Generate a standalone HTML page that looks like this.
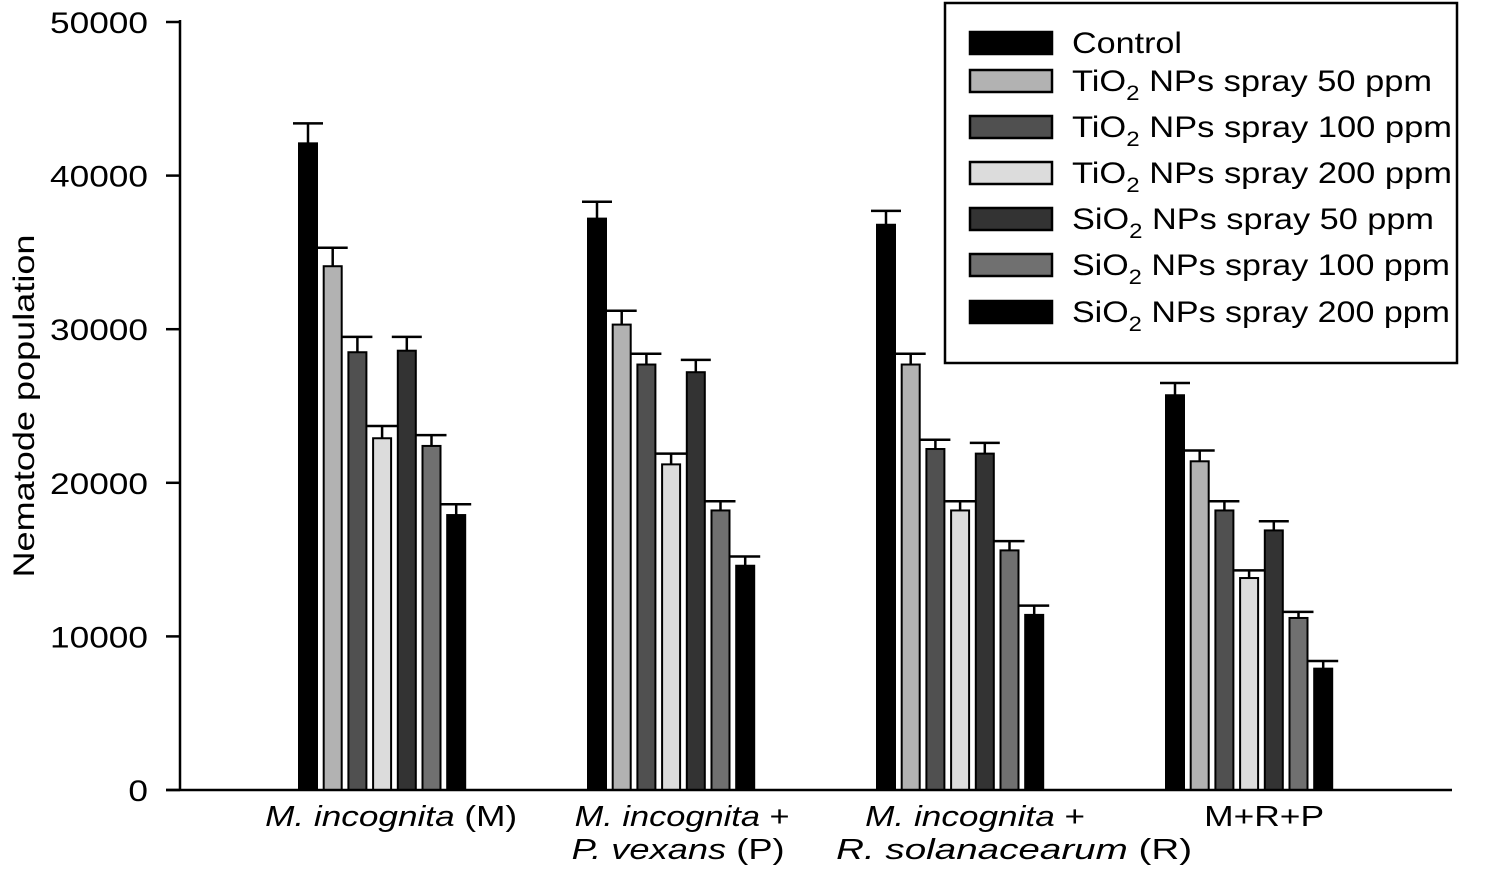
<!DOCTYPE html>
<html><head><meta charset="utf-8"><style>
body{margin:0;background:#fff;}
svg text{font-family:"Liberation Sans",sans-serif;fill:#000;}
</style></head><body>
<svg id="chart" width="1500" height="868" xmlns="http://www.w3.org/2000/svg">
<g id="bars"></g>
<g id="axes"></g>
<text transform="translate(34,406) rotate(-90)" text-anchor="middle" font-size="30" textLength="343" lengthAdjust="spacingAndGlyphs">Nematode population</text>
<g id="legend">
<rect x="945" y="3" width="512" height="360" fill="#fff" stroke="#000" stroke-width="2.5"/>
</g>
</svg>
<script>
const categories=["M. incognita (M)","M. incognita + P. vexans (P)","M. incognita + R. solanacearum (R)","M+R+P"];
const seriesNames=["Control","TiO2 NPs spray 50 ppm","TiO2 NPs spray 100 ppm","TiO2 NPs spray 200 ppm","SiO2 NPs spray 50 ppm","SiO2 NPs spray 100 ppm","SiO2 NPs spray 200 ppm"];
const control=[42100,37200,36800,25700];
const ti50=[34100,30300,27700,21400];
const ti100=[28500,27700,22200,18200];
const ti200=[22900,21200,18200,13800];
const si50=[28600,27200,21900,16900];
const si100=[22400,18200,15600,11200];
const si200=[17900,14600,11400,7900];
const errors=[[1300,1100,900,800],[1200,900,700,700],[1000,700,600,600],[800,700,600,500],[900,800,700,600],[700,600,600,400],[700,600,600,500]];
const yTicks=[0,10000,20000,30000,40000,50000];
const series=[control,ti50,ti100,ti200,si50,si100,si200];
const fills=["#000","#b2b2b2","#505050","#dcdcdc","#333","#707070","#000"];
const NS="http://www.w3.org/2000/svg";
const y=v=>790-v*(768/50000);
const x=(g,s)=>299+g*289+s*24.7;
const bars=document.getElementById('bars'),axes=document.getElementById('axes'),legend=document.getElementById('legend');
function mk(tag,attrs,parent){const e=document.createElementNS(NS,tag);for(const k in attrs)e.setAttribute(k,attrs[k]);parent.appendChild(e);return e;}
series.forEach((vals,s)=>{vals.forEach((v,g)=>{
 const bx=x(g,s),cx=bx+9;
 const top=y(v+errors[s][g]);
 const l1=mk('line',{x1:cx,x2:cx,y1:y(v),y2:top,stroke:'#000','stroke-width':2.5},bars);
 
 
 const l2=mk('line',{x1:cx-15,x2:cx+15,y1:top,y2:top,stroke:'#000','stroke-width':2.5},bars);
 
 
 const r=mk('rect',{x:bx,y:y(v),width:18,height:790-y(v),fill:fills[s],stroke:'#000','stroke-width':2},bars);
 
 
});});
const ya=mk('line',{x1:180,x2:180,y1:20,y2:791,stroke:'#000','stroke-width':2.5},axes);


const xa=mk('line',{x1:166,x2:1452,y1:790,y2:790,stroke:'#000','stroke-width':2.5},axes);


yTicks.forEach(t=>{
 const tl=mk('line',{x1:166,x2:180,y1:y(t),y2:y(t),stroke:'#000','stroke-width':2.5},axes);
 
 
 const s=String(t);
 const tx=mk('text',{x:148,y:y(t)+11,'text-anchor':'end','font-size':30,textLength:s.length*19.6,lengthAdjust:'spacingAndGlyphs'},axes);
 
 
 tx.textContent=s;
});
const xl=[
 [[[["M. incognita",1],[" (M)",0]],252,0]],
 [[[["M. incognita",1],[" +",0]],215,0],[[["P. vexans",1],[" (P)",0]],213,-4]],
 [[[["M. incognita",1],[" +",0]],220,0],[[["R. solanacearum",1],[" (R)",0]],356,39]],
 [[[["M+R+P",0]],120,0]]
];
xl.forEach((lines,g)=>{
 const cx=x(g,3)+9+ [9,11,15,15][g];
 lines.forEach((ln,i)=>{
  const t=mk('text',{x:cx+ln[2],y:826+i*33,'text-anchor':'middle','font-size':29,textLength:ln[1],lengthAdjust:'spacingAndGlyphs'},axes);
  
  
  ln[0].forEach(p=>{const ts=mk('tspan',p[1]?{'font-style':'italic'}:{},t);ts.textContent=p[0];});
 });
});
const ly=[43,81,127,173,219,265,312];
const lw=[110,360,380,380,362,378,378];
seriesNames.forEach((n,s)=>{
 const r=mk('rect',{x:970,y:ly[s]-11,width:82,height:22,fill:fills[s],stroke:'#000','stroke-width':2.5},legend);
 
 
 const t=mk('text',{x:1072,y:ly[s]+10,'font-size':30,textLength:lw[s],lengthAdjust:'spacingAndGlyphs'},legend);
 
 
 const m=n.match(/^(\w+)O2(.*)$/);
 if(m){const a=mk('tspan',{},t);a.textContent=m[1]+'O';const b=mk('tspan',{dy:9,'font-size':21},t);b.textContent='2';const c=mk('tspan',{dy:-9},t);c.textContent=m[2];}
 else t.textContent=n;
});
</script>
</body></html>
